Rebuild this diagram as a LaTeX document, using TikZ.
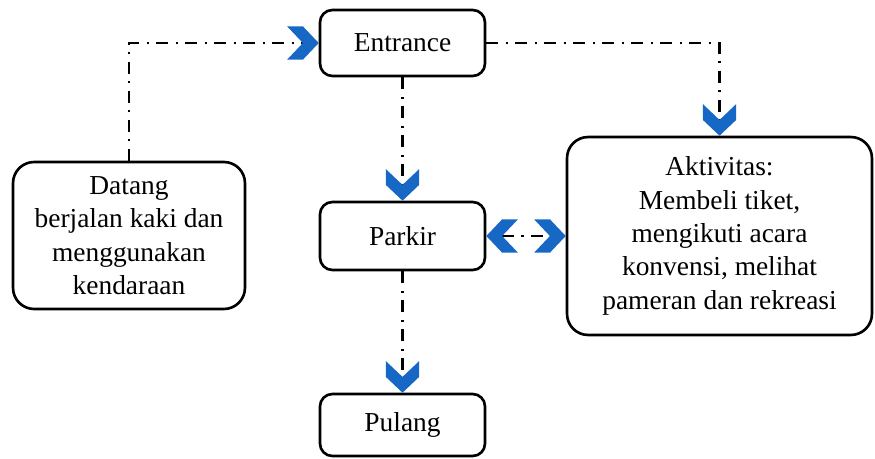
\documentclass[tikz,border=0pt]{standalone}
\usepackage{fontspec}
\setmainfont{Liberation Serif}
\usetikzlibrary{arrows.meta}

\definecolor{chevblue}{RGB}{22,104,196}

% filled blue chevron tip; the line stops at the inner notch
\pgfdeclarearrow{
  name = Chev,
  setup code = {
    \pgfarrowssettipend{0pt}
    \pgfarrowssetlineend{-9pt}
    \pgfarrowssetvisualbackend{-18pt}
    \pgfarrowssetbackend{-18pt}
    \pgfarrowshullpoint{0pt}{0pt}
    \pgfarrowsupperhullpoint{-18pt}{9.5pt}
    \pgfarrowsupperhullpoint{-9pt}{9.5pt}
  },
  drawing code = {
    \pgfpathmoveto{\pgfqpoint{0pt}{0pt}}
    \pgfpathlineto{\pgfqpoint{-9pt}{9.5pt}}
    \pgfpathlineto{\pgfqpoint{-18pt}{9.5pt}}
    \pgfpathlineto{\pgfqpoint{-9pt}{0pt}}
    \pgfpathlineto{\pgfqpoint{-18pt}{-9.5pt}}
    \pgfpathlineto{\pgfqpoint{-9pt}{-9.5pt}}
    \pgfpathclose
    \pgfsetfillcolor{chevblue}
    \pgfusepathqfill
  }
}

\tikzset{
  box/.style={draw=black, line width=1.5pt, fill=white, align=center,
    inner sep=0pt, font=\fontsize{15.6}{19}\selectfont},
  smallbox/.style={box, rounded corners=7pt, minimum width=3.3cm},
  bigbox/.style={box, rounded corners=12pt},
  flow/.style={draw=black, line width=1.3pt,
    dash pattern=on 6.8pt off 4.2pt on 1.3pt off 4.2pt, -{Chev}},
  flowboth/.style={flow, {Chev}-{Chev}},
}

\begin{document}
\begin{tikzpicture}[x=0.02cm, y=-0.02cm]
  \useasboundingbox (0,0) rectangle (875,459);

  \node[smallbox, minimum height=1.32cm] (entrance) at (402.5,43) {Entrance};
  \node[smallbox, minimum height=1.36cm] (parkir) at (402.5,236) {Parkir};
  \node[smallbox, minimum height=1.24cm] (pulang) at (402.5,425) {Pulang};
  \node[bigbox, minimum width=4.64cm, minimum height=2.94cm] (datang) at (129,235.5)
    {Datang\\berjalan kaki dan\\menggunakan\\kendaraan};
  \node[bigbox, minimum width=6.1cm, minimum height=3.96cm] (aktiv) at (719.5,236)
    {Aktivitas:\\Membeli tiket,\\mengikuti acara\\konvensi, melihat\\pameran dan rekreasi};

  \draw[flow] (datang.north) |- (entrance.west);
  \draw[flow] (entrance.east) -| (aktiv.north);
  \draw[flow] (entrance.south) -- (parkir.north);
  \draw[flowboth] (parkir.east) -- (aktiv.west);
  \draw[flow] (parkir.south) -- (pulang.north);
\end{tikzpicture}
\end{document}
